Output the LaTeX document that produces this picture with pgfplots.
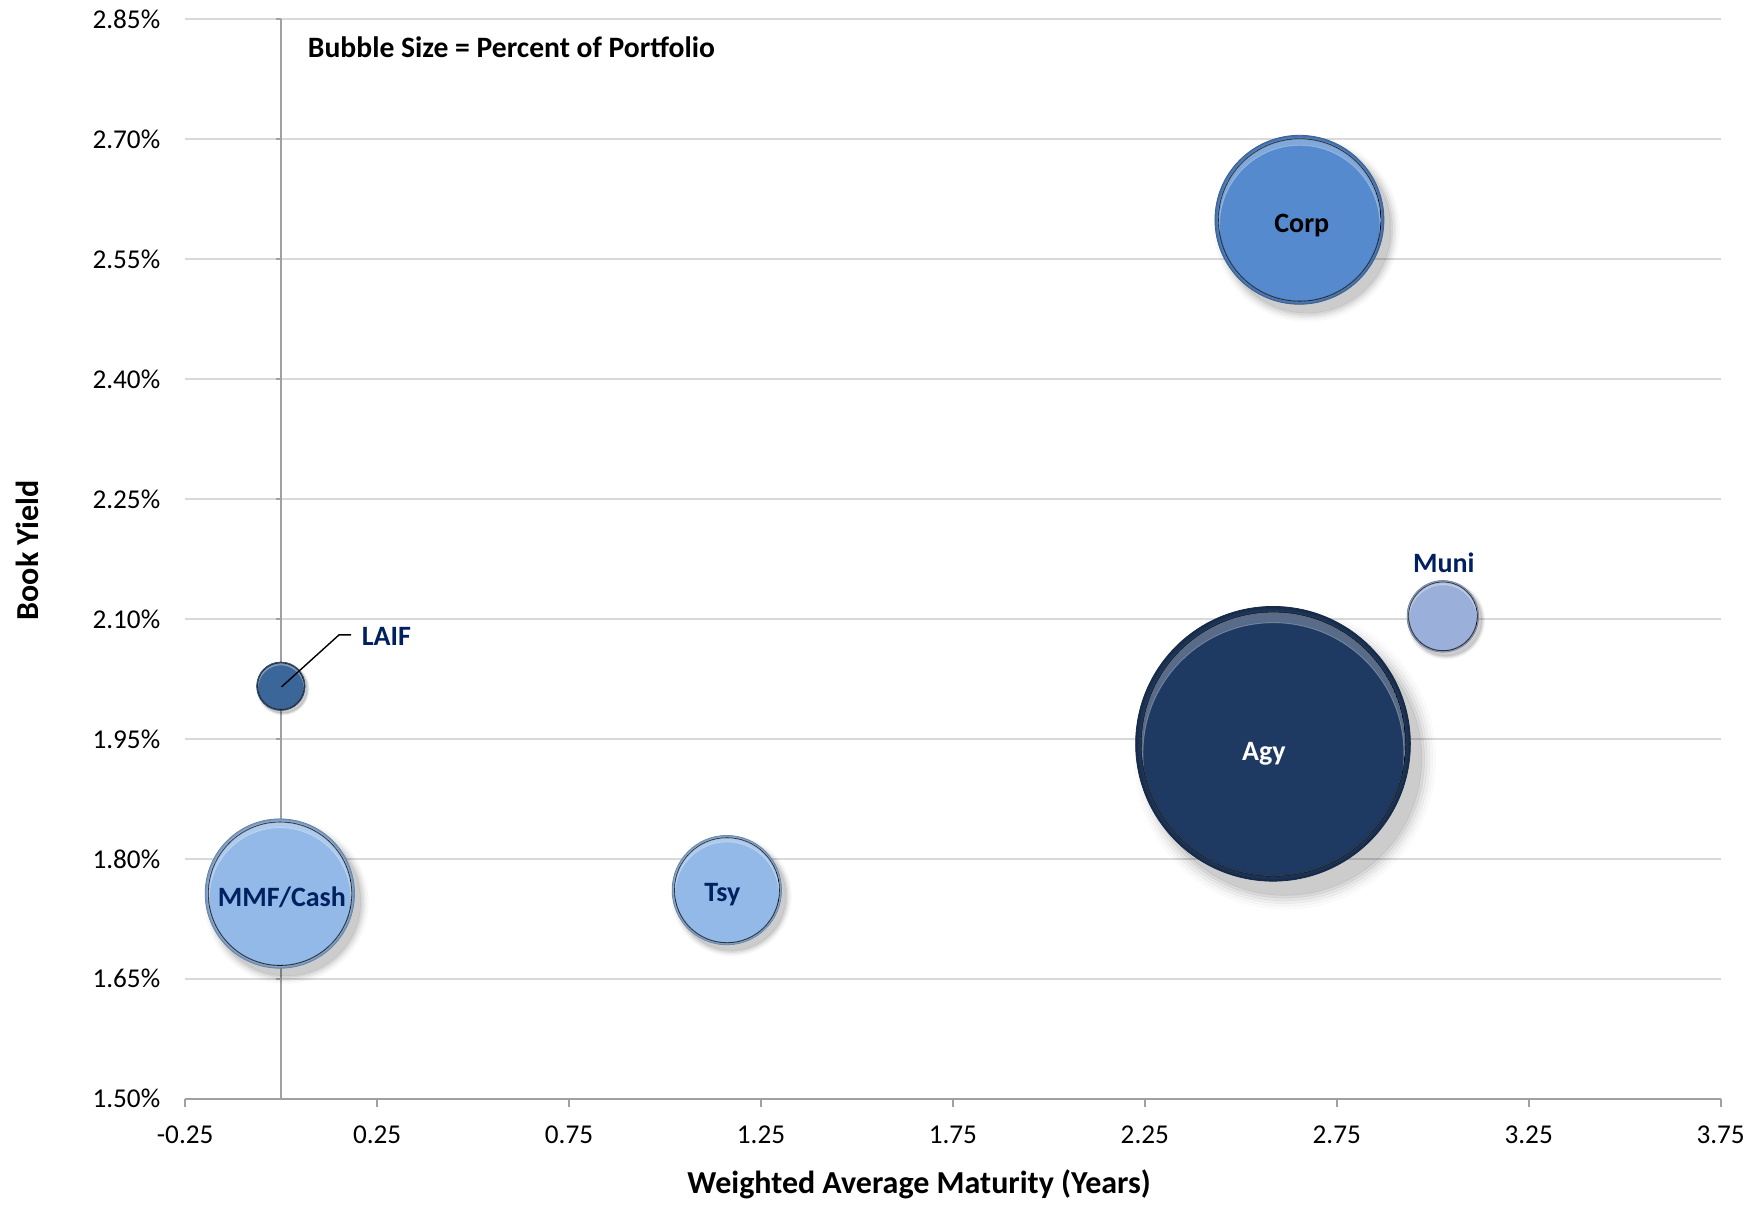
\documentclass[border=0pt]{standalone}
\usepackage{fontspec}
\setmainfont{Carlito}
\usepackage{pgfplots}
\pgfplotsset{compat=1.18}

\definecolor{gridgray}{HTML}{D9D9D9}
\definecolor{axisgray}{HTML}{A0A0A0}
\definecolor{labelnavy}{HTML}{002060}
\definecolor{agyfill}{HTML}{1F3A62}
\definecolor{corpfill}{HTML}{558ACF}
\definecolor{cashfill}{HTML}{92B9E8}
\definecolor{munifill}{HTML}{9AB0DA}
\definecolor{laiffill}{HTML}{3B6699}

\pgfdeclareplotmark{nothing}{}
\pgfkeys{/pgfplots/bubble fill/.initial=cashfill}

\newcommand\bublabel{\fontsize{14}{17}\selectfont\bfseries}

\pgfplotsset{
  bubble/.style={
    scatter, only marks, mark=nothing,
    visualization depends on={value \thisrow{size} \as \bubsize},
    % bubble area proportional to the share of the portfolio
    scatter/@pre marker code/.code={%
      \begingroup
      \pgfkeys{/pgf/fpu=false}%
      \pgfmathsetlengthmacro\bubr{9.59*sqrt(\bubsize)}%
      \edef\bubcol{\pgfkeysvalueof{/pgfplots/bubble fill}}%
      \colorlet{bubbase}{\bubcol}%
      \colorlet{bubrim}{\bubcol!58!black}%
      % soft drop shadow, down and to the right
      \foreach \sc/\op in {1.09/0.015,1.07/0.02,1.05/0.03,1.03/0.04,1.01/0.05,0.99/0.06}{%
        \fill[black, opacity=\op] (0.06*\bubr,-0.08*\bubr) circle ({\sc*\bubr});}%
      % body: darker rim toward the lower right, lit from the upper left
      \fill[bubrim] (0,0) circle (\bubr);
      \foreach \k/\mix in {0.995/30,0.985/52,0.975/70,0.962/84,0.95/94,0.94/100}{%
        \fill[bubbase!\mix!bubrim] (-0.028*\bubr,0.028*\bubr) circle ({\k*\bubr});}%
      % bevel highlight along the upper rim
      \begin{scope}
        \clip (-0.025*\bubr,0.025*\bubr) circle (0.955*\bubr);
        \fill[white, opacity=0.26, even odd rule]
          (-0.025*\bubr,0.025*\bubr) circle (0.955*\bubr)
          (-0.025*\bubr,-0.04*\bubr) circle (0.945*\bubr);
      \end{scope}
      \endgroup
    },
    scatter/@post marker code/.code={},
  },
}

\begin{document}
\begin{tikzpicture}
\useasboundingbox (0,0) rectangle (880pt,602pt);
\begin{axis}[
  at={(92.6pt,52.6pt)}, anchor=south west,
  scale only axis, width=767.7pt, height=539.9pt,
  xmin=-0.25, xmax=3.75, ymin=1.5, ymax=2.85,
  clip=false,
  axis x line*=bottom, axis y line*=left,
  axis line style={-},
  x axis line style={axisgray, line width=1.1pt},
  y axis line style={draw=none},
  xtick={-0.25,0.25,0.75,1.25,1.75,2.25,2.75,3.25,3.75},
  xticklabels={-0.25,0.25,0.75,1.25,1.75,2.25,2.75,3.25,3.75},
  ytick={1.50,1.65,1.80,1.95,2.10,2.25,2.40,2.55,2.70,2.85},
  yticklabels={1.50\%,1.65\%,1.80\%,1.95\%,2.10\%,2.25\%,2.40\%,2.55\%,2.70\%,2.85\%},
  tick align=outside,
  xtick style={axisgray, line width=0.9pt},
  ytick style={draw=none},
  major tick length=4pt,
  ymajorgrids, major grid style={gridgray, line width=0.8pt},
  tick label style={font=\fontsize{13.6}{16}\selectfont, text=black},
  xticklabel style={inner sep=0pt, anchor=north, yshift=-9.2pt},
  yticklabel style={inner sep=0pt, anchor=east, xshift=-8.3pt},
  xlabel={Weighted Average Maturity (Years)},
  ylabel={Book Yield},
  label style={font=\fontsize{16}{19}\selectfont\bfseries},
  xlabel style={at={(axis description cs:0.478,-0.0789)}, anchor=center},
  ylabel style={at={(axis description cs:-0.103,0.508)}, anchor=center},
]
% vertical axis crossing at zero maturity
\draw[axisgray, line width=0.8pt] (axis cs:0,1.5) -- (axis cs:0,2.85);
\pgfplotsinvokeforeach{1.50,1.65,1.80,1.95,2.10,2.25,2.40,2.55,2.70,2.85}{
  \draw[axisgray, line width=0.8pt] (axis cs:0,#1) -- ++(-2.5pt,0pt);
}

% x = WAM (years), y = book yield (%), size = percent of portfolio
\addplot[bubble, bubble fill=agyfill]   table[row sep=\\] {x y size\\ 2.594 1.939 51.8\\};
\addplot[bubble, bubble fill=corpfill]  table[row sep=\\] {x y size\\ 2.659 2.596 19.6\\};
\addplot[bubble, bubble fill=cashfill]  table[row sep=\\] {x y size\\ 0.002 1.754 15.3\\};
\addplot[bubble, bubble fill=cashfill]  table[row sep=\\] {x y size\\ 1.165 1.759 8.2\\};
\addplot[bubble, bubble fill=munifill]  table[row sep=\\] {x y size\\ 3.029 2.102 3.5\\};
\addplot[bubble, bubble fill=laiffill]  table[row sep=\\] {x y size\\ 0.001 2.015 1.6\\};

% anchors for the labels, which are set on top of the bubbles below
\coordinate (agy)  at (axis cs:2.594,1.939);
\coordinate (corp) at (axis cs:2.659,2.596);
\coordinate (cash) at (axis cs:0.002,1.754);
\coordinate (tsy)  at (axis cs:1.165,1.759);
\coordinate (muni) at (axis cs:3.029,2.102);
\coordinate (laif) at (axis cs:0.001,2.015);
\coordinate (note) at (axis description cs:0.0797,0.974);
\end{axis}

\node[font=\bublabel, text=white] at (agy) [xshift=-6.5pt, yshift=-3pt] {Agy};
\node[font=\bublabel, text=black] at (corp) [yshift=-1.6pt] {Corp};
\node[font=\bublabel, text=labelnavy] at (cash) [yshift=-0.6pt] {MMF/Cash};
\node[font=\bublabel, text=labelnavy] at (tsy) [xshift=-3pt, yshift=-1.6pt] {Tsy};
\node[font=\bublabel, text=labelnavy] at (muni) [yshift=27.5pt] {Muni};
\draw[black, line width=0.7pt] (laif) -- ++(28.75pt,26pt) -- ++(6pt,0pt)
  node[anchor=west, inner sep=0pt, xshift=5pt, yshift=-0.8pt, font=\bublabel, text=labelnavy] {LAIF};
\node[anchor=west, inner sep=0pt, font=\fontsize{14.8}{17.8}\selectfont\bfseries]
  at (note) {Bubble Size = Percent of Portfolio};
\end{tikzpicture}
\end{document}
